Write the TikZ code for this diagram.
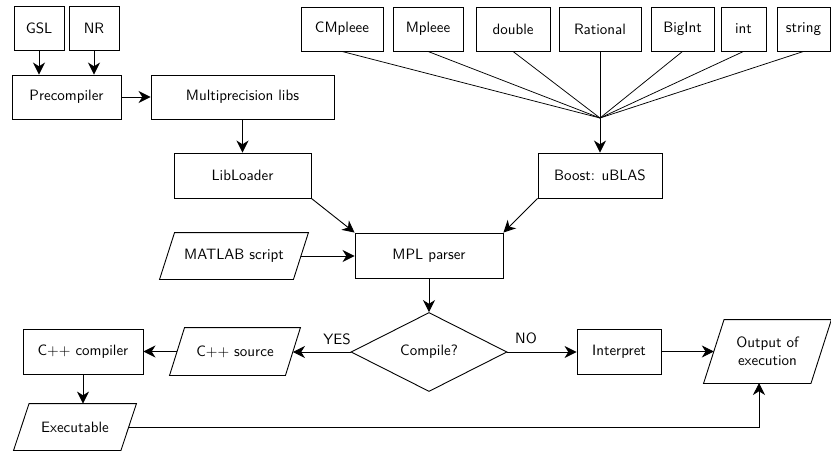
\documentclass[tikz,border=0pt]{standalone}
\usetikzlibrary{shapes.geometric,arrows.meta}
\newcommand{\pxu}{0.6667pt}
\newcommand{\parashape}[2]{%
  \draw[line width=0.6pt] ([xshift=-#2*\pxu/2]#1.south west) -- ([xshift=#2*\pxu/2]#1.north west)
    -- ([xshift=#2*\pxu/2]#1.north east) -- ([xshift=-#2*\pxu/2]#1.south east) -- cycle;}
\begin{document}
\begin{tikzpicture}[x=0.6667pt, y=-0.6667pt,
  font=\sffamily,
  every node/.style={line width=0.6pt},
  box/.style n args={2}{draw, rectangle, minimum width=#1*\pxu, minimum height=#2*\pxu, inner sep=0pt},
  para/.style n args={2}{rectangle, minimum width=#1*\pxu, minimum height=#2*\pxu, inner sep=0pt, align=center},
  dec/.style n args={2}{draw, diamond, minimum width=#1*\pxu, minimum height=#2*\pxu, inner sep=0pt},
  arr/.style={line width=0.6pt, -{Stealth[length=8pt, width=8pt, inset=2.5pt]}},
  ln/.style={line width=0.5pt},
  lbl/.style={inner sep=0pt}
]
\useasboundingbox (0,0) rectangle (831,451);

% top left
\node[box={50}{44}] (gsl) at (39,28) {GSL};
\node[box={50}{44}] (nr) at (94,28) {NR};
\node[box={109}{44}] (pre) at (66.5,97) {Precompiler};
\node[box={183}{44}] (multi) at (242.5,97) {Multiprecision libs};
\node[box={137}{45}] (lib) at (242.5,175.5) {LibLoader};

% top right types
\node[box={82}{44}] (t1) at (342,29) {CMpleee};
\node[box={70}{44}] (t2) at (428,29) {Mpleee};
\node[box={74}{44}] (t3) at (513,29) {double};
\node[box={82}{44}] (t4) at (600,29) {Rational};
\node[box={63}{44}] (t5) at (682.5,29) {BigInt};
\node[box={45}{44}] (t6) at (743.5,29) {int};
\node[box={53}{44}] (t7) at (803.5,29) {string};
\coordinate (m) at (600,118);
\node[box={124}{45}] (boost) at (600,175.5) {Boost: uBLAS};

% middle
\node[box={148}{45}] (mpl) at (429,255.5) {MPL parser};
\node[para={133}{46}] (mat) at (234,256) {MATLAB script};
\parashape{mat}{15}
\node[dec={156}{79}] (cmp) at (429,352) {Compile?};
\node[para={115}{47}] (src) at (235,351.5) {C++ source};
\parashape{src}{15}
\node[box={120}{45}] (cpp) at (83,351.5) {C++ compiler};
\node[para={106.5}{46}] (exe) at (75,427) {Executable};
\parashape{exe}{15.5}
\node[box={84}{45}] (intp) at (619,351.5) {Interpret};
\node[para={106.5}{63}] (out) at (767.5,351.5) {Output of\\execution};
\parashape{out}{20.5}
\coordinate (outb) at (759,383);

\node[lbl] (yes) at (337,339) {YES};
\node[lbl] (no) at (526,338) {NO};

% connectors
\draw[arr] (gsl.south) -- (gsl.south |- pre.north);
\draw[arr] (nr.south) -- (nr.south |- pre.north);
\draw[arr] (pre) -- (multi);
\draw[arr] (multi) -- (lib);
\foreach \t in {t1,t2,t3,t4,t5,t6,t7} \draw[ln] (\t.south) -- (m);
\draw[arr] (m) -- (boost.north);
\draw[arr] (lib.south east) -- (mpl.north west);
\draw[arr] (boost.south west) -- (mpl.north east);
\draw[arr] (mat.east) -- (mat.east -| mpl.west);
\draw[arr] (mpl) -- (cmp);
\draw[arr] (cmp.west) -- (cmp.west -| src.east);
\draw[arr] (src) -- (cpp);
\draw[arr] (cpp.south) -- (cpp.south |- exe.north);
\draw[arr] (cmp.east) -- (cmp.east -| intp.west);
\draw[arr] (intp) -- (out);
\draw[arr] (exe.east) -| (outb);
\end{tikzpicture}
\end{document}
